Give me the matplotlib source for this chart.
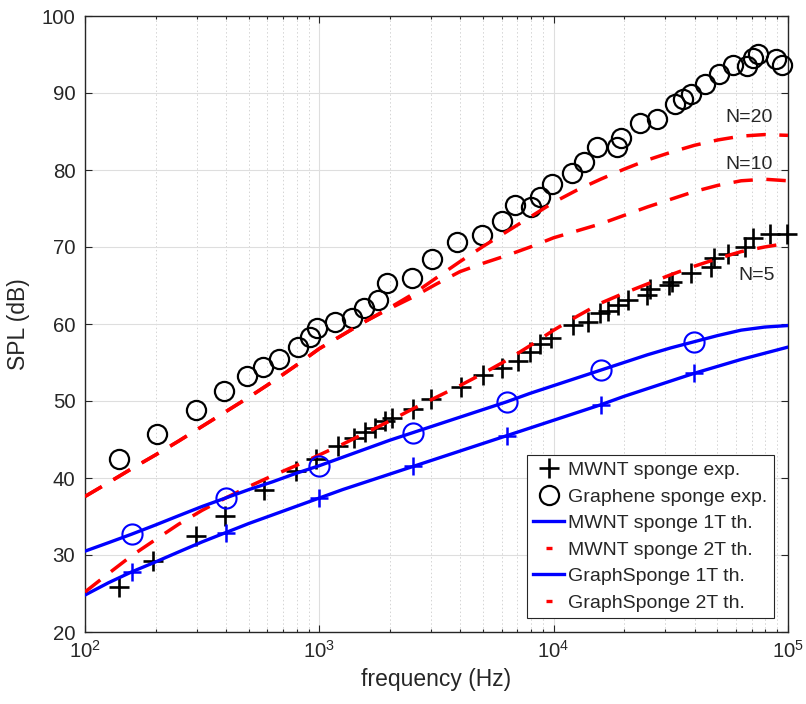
import numpy as np
import matplotlib
matplotlib.use("Agg")
import matplotlib.pyplot as plt
from matplotlib.lines import Line2D
from matplotlib.ticker import LogLocator, NullFormatter, FixedLocator

plt.rcParams["font.family"] = ["Liberation Sans", "DejaVu Sans"]
plt.rcParams["mathtext.fontset"] = "custom"
plt.rcParams["mathtext.rm"] = "Liberation Sans"

# ---- measured data -------------------------------------------------------
mwnt_exp_f = [140, 195, 298, 396, 581, 795, 968, 1202, 1406, 1567, 1729, 1907,
              2043, 2511, 2997, 4025, 4996, 6024, 7047, 7931, 8750, 9748,
              12100, 14030, 15780, 17070, 18830, 20770, 25040, 25790, 31090,
              32010, 38580, 46960, 48370, 55510, 65610, 70960, 83860, 99000]
mwnt_exp_spl = [25.8, 29.2, 32.5, 35.1, 38.4, 40.9, 42.5, 44.2, 45.2, 46.0,
                46.5, 47.4, 47.8, 49.0, 50.3, 51.8, 53.4, 54.3, 55.2, 56.4,
                57.4, 58.2, 59.9, 60.3, 61.4, 61.7, 62.5, 63.1, 63.8, 64.5,
                65.1, 65.5, 66.6, 67.4, 68.6, 69.1, 70.0, 71.2, 71.7, 71.7]

graph_exp_f = [140, 203, 298, 392, 491, 575, 673, 811, 913, 978, 1167, 1379,
               1551, 1780, 1945, 2486, 3027, 3870, 4948, 6024, 6843, 8008,
               8750, 9845, 11980, 13480, 15320, 18650, 19400, 23380, 27620,
               32970, 35670, 38580, 44290, 50810, 58310, 66910, 70960, 74560,
               88970, 94360]
graph_exp_spl = [42.5, 45.7, 48.8, 51.3, 53.2, 54.4, 55.5, 57.0, 58.3, 59.5,
                 60.3, 60.8, 62.1, 63.1, 65.3, 66.0, 68.4, 70.6, 71.6, 73.4,
                 75.5, 75.2, 76.5, 78.2, 79.6, 81.0, 83.0, 83.0, 84.2, 86.1,
                 86.6, 88.6, 89.2, 89.9, 91.2, 92.5, 93.6, 93.5, 94.5, 95.1,
                 94.4, 93.6]

# ---- model curves (tenth-decade steps from 100 Hz to 100 kHz) -------------
th_f = [100, 126, 158, 200, 251, 316, 398, 501, 631, 794,
        1000, 1259, 1585, 1995, 2512, 3162, 3981, 5012, 6310, 7943,
        10000, 12589, 15849, 19953, 25119, 31623, 39811, 50119, 63096, 79433,
        100000]
mwnt_1t = [24.8, 26.4, 27.8, 29.1, 30.4, 31.7, 32.9, 34.1, 35.2, 36.3,
           37.4, 38.5, 39.5, 40.5, 41.5, 42.5, 43.5, 44.5, 45.5, 46.5,
           47.5, 48.5, 49.5, 50.6, 51.6, 52.6, 53.6, 54.5, 55.4, 56.2,
           57.0]
mwnt_2t = [25.2, 27.6, 29.9, 32.0, 34.0, 35.8, 37.4, 38.9, 40.3, 41.6,
           43.0, 44.4, 45.9, 47.4, 49.0, 50.5, 52.0, 53.6, 55.3, 57.2,
           59.2, 61.0, 62.7, 64.0, 65.2, 66.4, 67.5, 68.5, 69.4, 70.0,
           70.5]
graph_1t = [30.5, 31.6, 32.7, 33.9, 35.1, 36.3, 37.4, 38.5, 39.5, 40.6,
            41.6, 42.7, 43.8, 44.9, 45.9, 46.9, 47.9, 48.9, 49.9, 51.0,
            52.0, 53.0, 54.0, 55.0, 56.0, 56.9, 57.7, 58.5, 59.2, 59.6,
            59.8]
graph_2t_n10 = [37.6, 39.4, 41.2, 43.0, 44.8, 46.7, 48.6, 50.5, 52.5, 54.6,
                56.8, 58.6, 60.4, 62.0, 63.5, 65.2, 66.8, 67.9, 68.9, 70.0,
                71.2, 72.1, 73.0, 74.1, 75.2, 76.2, 77.2, 78.0, 78.6, 78.8,
                78.6]
graph_2t_n20 = [37.6, 39.4, 41.2, 43.0, 44.8, 46.7, 48.6, 50.5, 52.5, 54.6,
                56.8, 58.6, 60.4, 62.1, 63.9, 66.0, 68.1, 70.1, 72.0, 73.9,
                75.8, 77.4, 78.8, 80.1, 81.3, 82.3, 83.2, 83.9, 84.4, 84.6,
                84.5]
marker_idx = [2, 6, 10, 14, 18, 22, 26]

legend_labels = ["MWNT sponge exp.", "Graphene sponge exp.",
                 "MWNT sponge 1T th.", "MWNT sponge 2T th.",
                 "GraphSponge 1T th.", "GraphSponge 2T th."]
curve_tags = ["N=20", "N=10", "N=5"]
tag_pos = [(68200, 86.8), (68200, 80.7), (73500, 66.3)]

# ---- drawing -------------------------------------------------------------
ink = "#262626"
fig = plt.figure(figsize=(8.06, 7.04), dpi=100)
ax = fig.add_axes([85 / 806, 72 / 704, 703 / 806, 616 / 704])

red_lw = 2.5
dash = (5.6, 3.9)
ax.plot(mwnt_exp_f, mwnt_exp_spl, linestyle="none", marker="+", ms=14,
        mew=1.9, color="black", clip_on=False, zorder=3)
ax.plot(graph_exp_f, graph_exp_spl, linestyle="none", marker="o", ms=13.8,
        mew=1.6, mfc="none", mec="black", clip_on=False, zorder=3)
ax.plot(th_f, mwnt_1t, color="blue", lw=2.4, marker="+", ms=13, mew=1.8,
        markevery=marker_idx, zorder=4)
ax.plot(th_f, mwnt_2t, color="red", lw=red_lw, dashes=dash, zorder=4)
ax.plot(th_f, graph_1t, color="blue", lw=2.4, marker="o", ms=14.5, mew=1.5,
        mfc="none", mec="blue", markevery=marker_idx, zorder=4)
ax.plot(th_f, graph_2t_n10, color="red", lw=red_lw, dashes=dash, zorder=4)
ax.plot(th_f, graph_2t_n20, color="red", lw=red_lw, dashes=dash, zorder=4)

for tag, (tx, ty) in zip(curve_tags, tag_pos):
    ax.text(tx, ty, tag, ha="center", va="center", fontsize=14, color=ink)

ax.set_xscale("log")
ax.set_xlim(1e2, 1e5)
ax.set_ylim(20, 100)
ax.yaxis.set_major_locator(FixedLocator(np.arange(20, 101, 10)))
ax.xaxis.set_minor_locator(LogLocator(base=10, subs=np.arange(2, 10)))
ax.xaxis.set_minor_formatter(NullFormatter())

ax.set_axisbelow(True)
ax.grid(True, which="major", color="#dedede", lw=0.8, linestyle="-")
ax.grid(True, which="minor", axis="x", color="#d4d4d4", lw=0.7,
        linestyle=(0, (1.5, 2.5)))

for sp in ax.spines.values():
    sp.set_color(ink)
    sp.set_linewidth(1.0)
ax.tick_params(which="both", direction="in", top=True, right=True,
               colors=ink, labelsize=14.7, width=0.8)
ax.tick_params(which="major", length=5, pad=7)
ax.tick_params(which="minor", length=2.5)
ax.tick_params(axis="x", which="major", pad=6)

ax.set_xlabel("frequency (Hz)", fontsize=16.5, color=ink, labelpad=4)
ax.set_ylabel("SPL (dB)", fontsize=16.5, color=ink, labelpad=8)

handles = [
    Line2D([], [], linestyle="none", marker="+", color="black", ms=14, mew=1.9),
    Line2D([], [], linestyle="none", marker="o", mfc="none", mec="black",
           ms=13.8, mew=1.6),
    Line2D([], [], color="blue", lw=2.4),
    Line2D([], [], linestyle="none", marker="_", color="red", ms=5, mew=2.4),
    Line2D([], [], color="blue", lw=2.4),
    Line2D([], [], linestyle="none", marker="_", color="red", ms=5, mew=2.4),
]
leg = ax.legend(handles, legend_labels, loc="lower right",
                bbox_to_anchor=(0.980, 0.0227), borderaxespad=0,
                fontsize=14, frameon=True, fancybox=False, edgecolor=ink,
                framealpha=1, labelspacing=0.46, handlelength=1.55,
                handletextpad=0.25, borderpad=0.32, numpoints=1)
leg.get_frame().set_linewidth(0.8)
for t in leg.get_texts():
    t.set_color(ink)

fig.savefig("out.png", dpi=100)
